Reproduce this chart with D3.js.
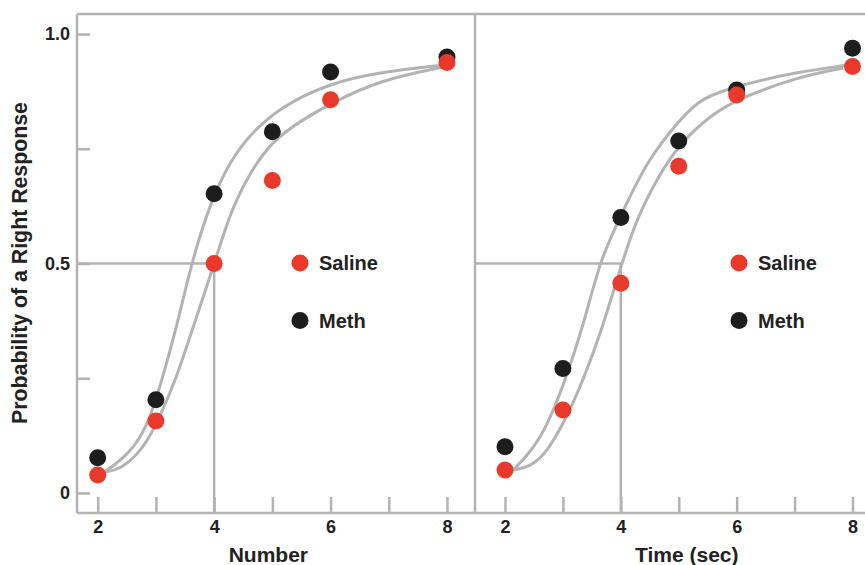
<!DOCTYPE html>
<html lang='en'>
    <head>
        <meta charset='UTF-8'>
        <title>Probability of a Right Response</title>
        <script src="https://d3js.org/d3.v7.min.js"></script>
        <style>
            body {
                margin: 0;
                background-color: white;
                font-family: 'Liberation Sans', Arial, sans-serif;
            }
            text {
                font-weight: bold;
                fill: #222;
            }
        </style>
    </head>
    <body>
        <svg id='chart' width='865' height='565'></svg>
        <script>
            // data
            let xValues = [2, 3, 4, 5, 6, 8]
            let numberSaline = [0.039, 0.157, 0.50, 0.681, 0.857, 0.938]
            let numberMeth = [0.077, 0.203, 0.652, 0.787, 0.917, 0.950]
            let timeSaline = [0.050, 0.181, 0.457, 0.712, 0.867, 0.929]
            let timeMeth = [0.101, 0.271, 0.600, 0.767, 0.878, 0.969]

            // fitted curves, traced as [x, p] points
            let numberSalineCurve = [[2.12, 0.046], [2.38, 0.050], [2.78, 0.094], [3.07, 0.166], [3.36, 0.253], [3.64, 0.362], [3.98, 0.490], [4.27, 0.610], [4.60, 0.695], [4.98, 0.765], [5.50, 0.812], [5.99, 0.848], [6.85, 0.900], [7.93, 0.928]]
            let numberMethCurve = [[2.12, 0.046], [2.21, 0.054], [2.55, 0.087], [2.85, 0.144], [3.07, 0.231], [3.36, 0.362], [3.62, 0.508], [3.98, 0.648], [4.28, 0.722], [4.57, 0.775], [5.13, 0.841], [5.99, 0.893], [6.85, 0.917], [7.93, 0.932]]
            let timeSalineCurve = [[2.14, 0.050], [2.43, 0.057], [2.72, 0.087], [3.07, 0.166], [3.35, 0.246], [3.69, 0.362], [3.99, 0.490], [4.28, 0.601], [4.68, 0.697], [5.02, 0.762], [5.60, 0.828], [6.06, 0.860], [7.04, 0.906], [7.84, 0.926]]
            let timeMethCurve = [[2.14, 0.050], [2.43, 0.087], [2.72, 0.144], [3.00, 0.231], [3.35, 0.362], [3.64, 0.508], [3.99, 0.601], [4.45, 0.725], [5.02, 0.813], [5.37, 0.860], [6.06, 0.889], [7.04, 0.917], [7.90, 0.932]]

            let xTicks = [2, 3, 4, 5, 6, 7, 8]
            let yTicks = [0, 0.25, 0.5, 0.75, 1]
            let yTickLabels = {0: '0', 0.5: '0.5', 1: '1.0'}
            let legendNames = ['Saline', 'Meth']
            let colors = {Saline: '#e8392b', Meth: '#1d1d1d'}
            let gray = '#b3b3b3'

            let svg = d3.select('#chart')

            let y = d3.scaleLinear().domain([0, 1]).range([493, 34])
            let panels = [
                {title: 'Number', x: d3.scaleLinear().domain([2, 8]).range([97.7, 447]),
                 saline: numberSaline, meth: numberMeth, salineCurve: numberSalineCurve, methCurve: numberMethCurve,
                 left: 77, right: 475, legendX: 300},
                {title: 'Time (sec)', x: d3.scaleLinear().domain([2, 8]).range([505, 852.5]),
                 saline: timeSaline, meth: timeMeth, salineCurve: timeSalineCurve, methCurve: timeMethCurve,
                 left: 475, right: 865, legendX: 739}
            ]

            let frameBottom = 513
            let frameTop = 14

            // frame
            let frame = svg.append('g')
                .attr('stroke', gray)
                .attr('stroke-width', 2.5)
            frame.append('line').attr('x1', 77).attr('x2', 865).attr('y1', frameTop).attr('y2', frameTop)
            frame.append('line').attr('x1', 77).attr('x2', 865).attr('y1', frameBottom).attr('y2', frameBottom)
            frame.append('line').attr('x1', 77).attr('x2', 77).attr('y1', frameTop).attr('y2', frameBottom)
            frame.append('line').attr('x1', 475).attr('x2', 475).attr('y1', frameTop).attr('y2', frameBottom)

            // y axis
            let yAxis = svg.append('g')
                .attr('transform', 'translate(77,0)')
                .call(d3.axisLeft(y)
                    .tickValues(yTicks)
                    .tickSizeInner(-13)
                    .tickSizeOuter(0)
                    .tickPadding(7)
                    .tickFormat(d => yTickLabels[d] || ''))
            yAxis.select('.domain').remove()
            yAxis.selectAll('line').attr('stroke', gray).attr('stroke-width', 2.5)
            yAxis.selectAll('text')
                .style('font-size', '18px')
                .style('font-family', "'Liberation Sans', Arial, sans-serif")
                .attr('fill', '#222')

            svg.append('text')
                .attr('transform', 'translate(27,263) rotate(-90)')
                .attr('text-anchor', 'middle')
                .style('font-size', '21.3px')
                .text('Probability of a Right Response')

            let line = d3.line()
                .x(d => d[0])
                .y(d => d[1])
                .curve(d3.curveBasis)

            panels.forEach(p => {
                let g = svg.append('g')

                // x axis
                let xAxis = g.append('g')
                    .attr('transform', `translate(0,${frameBottom})`)
                    .call(d3.axisBottom(p.x)
                        .tickValues(xTicks)
                        .tickSizeInner(-16)
                        .tickSizeOuter(0)
                        .tickPadding(7)
                        .tickFormat(d => d % 2 === 0 ? d : ''))
                xAxis.select('.domain').remove()
                xAxis.selectAll('line').attr('stroke', gray).attr('stroke-width', 2.5)
                xAxis.selectAll('text')
                    .style('font-size', '18px')
                    .style('font-family', "'Liberation Sans', Arial, sans-serif")
                    .attr('fill', '#222')

                g.append('text')
                    .attr('x', (p.x(2) + p.x(8)) / 2 + (p.title === 'Number' ? -4 : 8))
                    .attr('y', 562)
                    .attr('text-anchor', 'middle')
                    .style('font-size', '21px')
                    .text(p.title)

                // 0.5 criterion lines
                g.append('path')
                    .attr('d', `M${p.left},${y(0.5)}H${p.x(4)}V${frameBottom}`)
                    .attr('fill', 'none')
                    .attr('stroke', gray)
                    .attr('stroke-width', 2.5)

                // fitted curves
                ;[p.salineCurve, p.methCurve].forEach(c => {
                    g.append('path')
                        .attr('d', line(c.map(d => [p.x(d[0]), y(d[1])])))
                        .attr('fill', 'none')
                        .attr('stroke', gray)
                        .attr('stroke-width', 3)
                })

                // points: meth first so saline sits on top
                g.selectAll('.meth')
                    .data(p.meth)
                    .enter()
                    .append('circle')
                    .attr('class', 'meth')
                    .attr('cx', (d, i) => p.x(xValues[i]))
                    .attr('cy', d => y(d))
                    .attr('r', 8.5)
                    .attr('fill', colors.Meth)
                g.selectAll('.saline')
                    .data(p.saline)
                    .enter()
                    .append('circle')
                    .attr('class', 'saline')
                    .attr('cx', (d, i) => p.x(xValues[i]))
                    .attr('cy', d => y(d))
                    .attr('r', 8.5)
                    .attr('fill', colors.Saline)

                // legend
                legendNames.forEach((name, i) => {
                    let ly = 263 + i * 57.5
                    g.append('circle')
                        .attr('cx', p.legendX)
                        .attr('cy', ly)
                        .attr('r', 8.5)
                        .attr('fill', colors[name])
                    g.append('text')
                        .attr('x', p.legendX + 19)
                        .attr('y', ly + 7)
                        .style('font-size', '20px')
                        .text(name)
                })
            })
        </script>
    </body>
</html>
